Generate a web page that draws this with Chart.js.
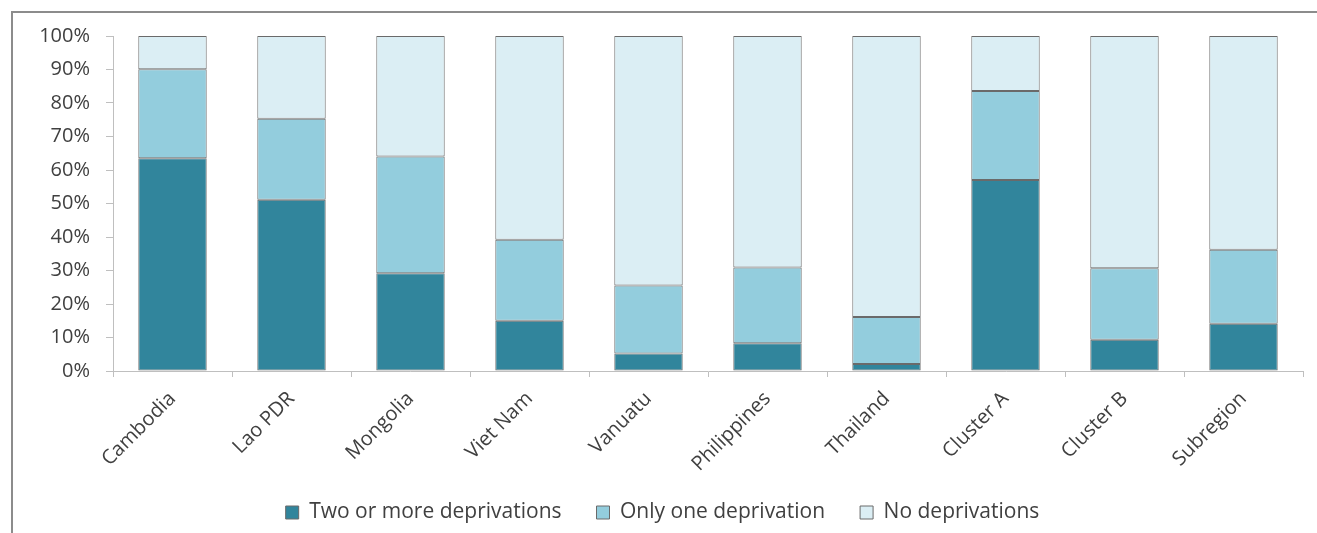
<!DOCTYPE html>
<html>
<head>
<meta charset="utf-8">
<script src="https://cdn.jsdelivr.net/npm/chart.js@4.4.1/dist/chart.umd.min.js"></script>
<style>
  html, body { margin: 0; padding: 0; background: #ffffff; }
  #wrap { position: relative; width: 1317px; height: 533px; }
  canvas { display: block; }
</style>
</head>
<body>
<div id="wrap"><canvas id="chart" width="1317" height="533"></canvas></div>
<script>
// Share of population by number of deprivations (%)
const categories = ['Cambodia', 'Lao PDR', 'Mongolia', 'Viet Nam', 'Vanuatu', 'Philippines', 'Thailand', 'Cluster A', 'Cluster B', 'Subregion'];
const seriesNames = ['Two or more deprivations', 'Only one deprivation', 'No deprivations'];
const twoOrMore = [63.5, 51.1, 29.2, 15.0, 5.2, 8.3, 2.1, 57.0, 9.3, 14.1];
const onlyOne   = [26.6, 24.2, 34.8, 24.2, 20.3, 22.6, 14.0, 26.6, 21.4, 22.1];
const noDepr    = [9.9, 24.7, 36.0, 60.8, 74.5, 69.1, 83.9, 16.4, 69.3, 63.8];
const yTicks = [0, 10, 20, 30, 40, 50, 60, 70, 80, 90, 100];

const colors = ['#31859C', '#93CDDD', '#DBEEF4'];
const FONT = "'Open Sans', 'DejaVu Sans', sans-serif";
const TEXT = '#404040';

// Outer frame of the chart box (left and top edges)
const framePlugin = {
  id: 'frame',
  beforeDraw(chart) {
    const ctx = chart.ctx;
    ctx.save();
    ctx.strokeStyle = '#8c8c8c';
    ctx.lineWidth = 2;
    ctx.beginPath();
    ctx.moveTo(12, 533);
    ctx.lineTo(12, 12);
    ctx.lineTo(1317, 12);
    ctx.stroke();
    ctx.restore();
  }
};

// Nudge the legend row right, and let the slanted category labels
// run below the axis box instead of being clipped to it
const layoutTweaks = {
  id: 'layoutTweaks',
  afterLayout(chart) {
    const lg = chart.legend;
    if (lg) { lg.left += 11; lg.right += 11; }
    const x = chart.scales.x;
    if (x) { x._computeLabelArea = () => undefined; }
  }
};

const datasets = [twoOrMore, onlyOne, noDepr].map((vals, i) => ({
  label: seriesNames[i],
  data: vals,
  backgroundColor: colors[i],
  borderColor: '#6a6a6a',
  borderWidth: 1,
  borderSkipped: false,
  barPercentage: 0.575,
  categoryPercentage: 1.0
}));

new Chart(document.getElementById('chart'), {
  type: 'bar',
  data: { labels: categories, datasets },
  plugins: [framePlugin, layoutTweaks],
  options: {
    responsive: false,
    animation: false,
    devicePixelRatio: 1,
    layout: { padding: { left: 0, right: 14, top: 36, bottom: 0 } },
    plugins: {
      legend: {
        position: 'bottom',
        labels: {
          font: { family: FONT, size: 21 },
          color: TEXT,
          boxWidth: 13,
          boxHeight: 13,
          padding: 35,
          useBorderRadius: false
        }
      },
      tooltip: { enabled: false }
    },
    scales: {
      x: {
        stacked: true,
        offset: true,
        grid: {
          offset: true,
          drawOnChartArea: false,
          drawTicks: true,
          tickLength: 6,
          color: '#bfbfbf'
        },
        border: { color: '#bfbfbf', width: 1 },
        ticks: {
          font: { family: FONT, size: 20 },
          color: TEXT,
          maxRotation: 45,
          minRotation: 45,
          padding: 10
        },
        afterFit(axis) { axis.height = 96; }
      },
      y: {
        stacked: true,
        min: 0,
        max: 100,
        afterBuildTicks(axis) { axis.ticks = yTicks.map(v => ({ value: v })); },
        grid: {
          drawOnChartArea: false,
          drawTicks: true,
          tickLength: 7,
          color: '#bfbfbf'
        },
        border: { color: '#bfbfbf', width: 1 },
        ticks: {
          font: { family: FONT, size: 20 },
          color: TEXT,
          padding: 16,
          callback: v => v + '%'
        },
        afterFit(axis) { axis.width = 113; }
      }
    }
  }
});
</script>
</body>
</html>
